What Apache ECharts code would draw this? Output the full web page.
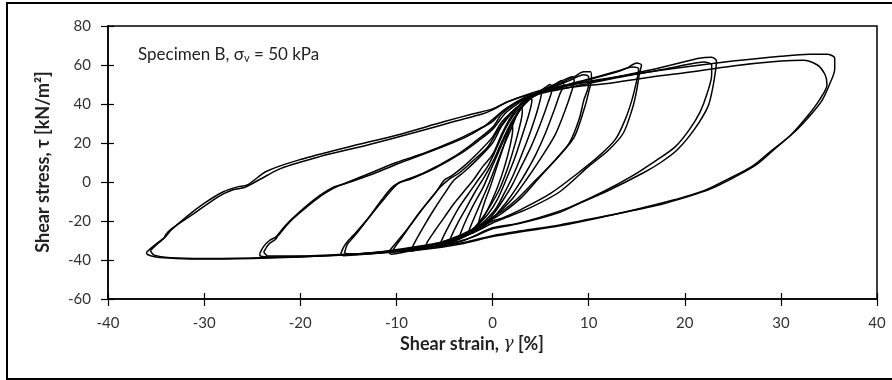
<!DOCTYPE html>
<html><head><meta charset="utf-8">
<script src="https://cdn.jsdelivr.net/npm/echarts@6/dist/echarts.min.js"></script>
<style>html,body{margin:0;padding:0;background:#fff}#c{width:892px;height:380px}</style>
</head><body><div id="c"></div>
<script>
// Axis ticks
const xTicks = { min: -40, max: 40, interval: 10 };
const yTicks = { min: -60, max: 80, interval: 20 };

// Hysteresis loops: [shear strain %, shear stress kN/m2]
const loop35a = [[-36.0,-36],[-35.3,-33],[-34.4,-29.5],[-34.0,-28],[-33.5,-25],[-32,-18.5],[-30,-11],[-28,-5],[-26.5,-2.5],[-25.5,-1.5],[-23.5,5.5],[-20,11.5],[-15,18],[-10,24],[-5,31],[-2,35],[0,37.5],[2,42],[5,47],[8,50],[11,52.5],[15,55.5],[20,59],[25,62],[30,64.5],[33,65.5],[34.8,65.5],[35.6,63.5],[35.6,58],[35.1,50.5],[34.3,42],[33.2,35],[31.5,26],[29.6,18],[27.5,9],[25,2],[22.7,-3.5],[20,-8],[17.5,-11.5],[12.2,-17],[7,-22],[3,-25],[0,-27.5],[-3,-31],[-7.5,-34],[-12,-36],[-16,-37.5],[-20,-38.5],[-25,-39.2],[-30,-39.5],[-33,-39.2],[-35,-38.5],[-35.9,-37.2],[-36.0,-36]];
const loop35b = [[-35.6,-35.2],[-34.8,-31.5],[-34.2,-29],[-34,-27],[-33.4,-24],[-31,-16],[-28.5,-7.5],[-27,-4],[-25.8,-2.8],[-24.5,0.5],[-22,7],[-18,13],[-13,19],[-8,25.5],[-4,31],[-1,35],[0,37],[1.5,41],[4,45],[8,48.5],[12,50.5],[16,53.5],[20,56],[25,59.5],[30,62],[32.3,62.5],[33.8,60],[34.6,55],[34.8,50],[34,42],[32.8,34],[31,24],[29,16],[27,8],[24.5,1.5],[22,-4.5],[19,-9],[15,-14],[11,-18.5],[7,-22.5],[3,-25.5],[0,-28],[-3,-31.5],[-7,-34.5],[-12,-36.5],[-18,-38],[-24,-38.8],[-30,-39.2],[-33.5,-38.8],[-35.2,-37.5],[-35.6,-35.2]];
const loop23a = [[-24.2,-36.5],[-23.8,-33],[-23.2,-30],[-22.5,-28],[-21.5,-22],[-20,-15],[-18,-7],[-16.5,-2.5],[-15.5,-1],[-13,4],[-10,10],[-7,15],[-4,21],[-1.5,27],[0,31],[1,36],[3,42.5],[5,46],[8,49.5],[12,53],[16,57],[19,60.5],[21.5,63.5],[22.8,64],[23.3,62],[23.2,57],[22.9,48],[22.4,38.5],[21,27],[19.2,16.4],[17.5,10],[15.8,5],[12,-4.5],[9,-11],[7,-15.5],[3,-21],[0,-23.5],[-3,-30],[-7,-34],[-12,-36.2],[-16,-37.5],[-20,-38.2],[-23,-38.5],[-24.2,-37.8],[-24.2,-36.5]];
const loop23b = [[-23.8,-36],[-23.3,-32],[-22.6,-29.5],[-22.3,-27.5],[-21,-20],[-19.5,-13.5],[-17.5,-6],[-16,-2],[-14.5,0.5],[-12,5],[-9,11],[-6,16.5],[-3,22.5],[-1,28],[0,32],[1.5,38],[3.5,43],[6,46.5],[10,50.5],[14,54.5],[18,58],[20.5,60.5],[22,61.5],[22.8,60],[22.8,55],[22.3,45],[21.6,36],[20.5,27],[19,18],[17,11],[14.5,3],[11.5,-5],[8,-13],[5,-18],[2,-22],[0,-24],[-2.5,-29],[-6,-33.5],[-11,-36],[-16,-37.2],[-21,-38],[-23.3,-38],[-23.8,-36]];
const loop15a = [[-15.8,-37],[-15.5,-33.5],[-15,-30],[-14.5,-27.5],[-13,-19],[-11.5,-9],[-10.5,-3],[-9.8,-0.5],[-9.3,0.5],[-7,5],[-4,13],[-2,20],[0,28],[1,35],[3,42],[6,47.5],[9,51.5],[12,55.5],[14,58.5],[15,61],[15.5,60],[15.3,56],[15,47],[14.6,38.5],[13.6,25],[12,16],[10,8],[7,-5],[4,-13],[1,-19],[0,-21],[-2,-26],[-5,-31],[-9,-34.5],[-12,-36.5],[-14.5,-37.5],[-15.5,-37.8],[-15.8,-37]];
const loop15b = [[-15.4,-36.5],[-15.1,-32],[-14.6,-29],[-14,-25.5],[-12.5,-16],[-11,-7],[-10,-1.5],[-9.5,0],[-8.5,1.5],[-6,7],[-3.5,14],[-1.5,21],[0,27],[1.5,36],[4,44],[7,48.5],[10,52.5],[13,56.5],[14.5,59],[15.2,58],[15,52],[14.5,42],[13.8,32],[12.8,22],[11,13],[9,5],[6,-6],[3,-14],[1,-18.5],[0,-20],[-2,-25],[-5,-30.5],[-9,-34],[-12,-36],[-14.5,-37],[-15.4,-36.5]];
const loop10a = [[-10.8,-36],[-10.5,-34],[-10,-31],[-9,-25],[-7.5,-15],[-6,-6],[-5,1],[-4.3,3],[-3,8],[-1.5,15],[0,23],[1,31],[3,40],[5,46],[7,50.5],[8.5,54],[9.5,56.5],[10.2,56.5],[10.3,53],[10,46],[9.6,38.5],[8.5,23],[7,14],[5,3],[3,-8],[1,-16],[0,-19],[-2,-25],[-4.5,-30],[-7,-33.5],[-9.5,-36.3],[-10.5,-37],[-10.8,-36]];
const loop10b = [[-10.4,-35.5],[-10.1,-33],[-9.5,-29],[-8.5,-22],[-7,-12],[-5.5,-3],[-4.5,1.5],[-3.5,4.5],[-2,11],[-0.5,18],[0.5,26],[2,36],[4,43],[6,48],[8,52],[9.5,55],[10,54],[10,50],[9.5,42],[9,32],[8,20],[6.5,11],[4.5,1],[2.5,-9],[1,-15],[0,-18],[-2,-24],[-4.5,-29.5],[-7,-33],[-9.5,-35.5],[-10.4,-35.5]];
const loop8 = [[-8.5,-35.5],[-8.2,-32],[-7.3,-24],[-6.2,-15],[-5,-6],[-4,1],[-3,5],[-1.5,12],[0,20],[1,29],[2.5,38],[4,44],[6,49],[7.5,52.5],[8.3,54],[8.5,52],[8.2,46],[7.5,36],[6.5,24],[5,12],[3.5,1],[2,-9],[0.8,-15],[0,-18.5],[-1.5,-23.5],[-3.5,-29],[-6,-33],[-8.5,-35.5]];
const loop6 = [[-7,-34],[-6.8,-31],[-6,-25],[-5,-18],[-4,-11],[-3,-5],[-2,1],[-1,8],[0,14],[1,25],[2,34],[3,40],[4.5,44.5],[5.5,47],[6.5,50],[7.2,52],[7.4,50],[7,45],[6.5,38],[5.5,25],[4.5,14],[3.5,5],[2.5,-3],[1.5,-10],[0.5,-16],[0,-19],[-1,-23],[-2.5,-27],[-4,-30],[-5.5,-32.5],[-7,-34]];
const loop5 = [[-5.5,-33],[-5.3,-30],[-4.6,-23],[-3.6,-14],[-2.5,-6],[-1.5,1],[-0.5,8],[0.3,16],[1.3,27],[2.3,35],[3.5,41],[4.5,45],[5.5,48.5],[6,50],[6.2,48],[5.8,41],[5,30],[4,18],[3,8],[2,-2],[1,-10],[0,-17],[-1,-22],[-2.5,-27],[-4,-30.5],[-5.5,-33]];
const loop4 = [[-4.5,-31],[-4.3,-28],[-3.6,-21],[-2.7,-13],[-1.8,-5],[-0.8,3],[0.2,12],[1,21],[2,31],[3,38],[4,43],[4.8,46.5],[5.1,46],[4.8,39],[4.1,28],[3.2,16],[2.2,4],[1.2,-6],[0.3,-14],[-0.8,-20],[-2,-25],[-3.3,-28.5],[-4.5,-31]];
const loop3 = [[-3.5,-29],[-3.3,-26],[-2.7,-19],[-1.9,-11],[-1,-3],[-0.2,6],[0.6,15],[1.5,25],[2.5,34],[3.3,40],[3.9,43.5],[4.1,42],[3.8,35],[3.1,24],[2.3,12],[1.4,1],[0.5,-9],[-0.4,-16],[-1.5,-22],[-2.5,-26],[-3.5,-29]];
const loop2 = [[-2.5,-26],[-2.3,-23],[-1.7,-16],[-1,-8],[-0.3,0],[0.4,9],[1.2,19],[2,28],[2.6,35],[3,38.5],[3.1,36],[2.8,28],[2.2,17],[1.5,6],[0.7,-4],[-0.2,-12],[-1,-18],[-1.8,-23],[-2.5,-26]];
const loop1 = [[-1.5,-22],[-1.3,-18],[-0.8,-10],[-0.2,-2],[0.4,7],[1,16],[1.6,25],[2,30],[2.1,27],[1.8,18],[1.2,7],[0.5,-3],[-0.2,-11],[-0.8,-17],[-1.5,-22]];

const loops = [loop1, loop2, loop3, loop4, loop5, loop6, loop8, loop10a, loop10b, loop15a, loop15b, loop23a, loop23b, loop35a, loop35b];

const chart = echarts.init(document.getElementById('c'), null, { renderer: 'canvas' });
const FONT = 'Lato';
const baseAxis = (t) => ({ type: 'value', min: t.min, max: t.max, interval: t.interval, splitLine: { show: false } });

chart.setOption({
  animation: false,
  backgroundColor: '#fff',
  grid: { left: 108, right: 15, top: 26, bottom: 81, show: true, borderColor: '#000', borderWidth: 1.5, backgroundColor: 'transparent' },
  xAxis: [
    Object.assign(baseAxis(xTicks), {
      position: 'bottom',
      axisLine: { onZero: false, lineStyle: { color: '#000', width: 1.5 } },
      axisTick: { inside: false, length: 7, lineStyle: { color: '#000', width: 1.2 } },
      axisLabel: { color: '#333', fontFamily: FONT, fontSize: 15, margin: 17 }
    }),
    Object.assign(baseAxis(xTicks), {
      position: 'bottom',
      axisLine: { show: false, onZero: false },
      axisTick: { inside: true, length: 6, lineStyle: { color: '#000', width: 1.2 } },
      axisLabel: { show: false }
    })
  ],
  yAxis: [
    Object.assign(baseAxis(yTicks), {
      position: 'left',
      axisLine: { onZero: false, lineStyle: { color: '#000', width: 1.5 } },
      axisTick: { inside: false, length: 7, lineStyle: { color: '#000', width: 1.2 } },
      axisLabel: { color: '#333', fontFamily: FONT, fontSize: 15, margin: 17 }
    }),
    Object.assign(baseAxis(yTicks), {
      position: 'left',
      axisLine: { show: false, onZero: false },
      axisTick: { inside: true, length: 6, lineStyle: { color: '#000', width: 1.2 } },
      axisLabel: { show: false }
    })
  ],
  title: {
    left: 133, top: 40,
    text: '{a|Specimen B, σ}{s|v}{a| = 50 kPa}',
    textStyle: { fontWeight: 'normal', rich: {
      a: { fontFamily: FONT, fontSize: 17, fontWeight: 'normal', color: '#222' },
      s: { fontFamily: FONT, fontSize: 11, fontWeight: 'normal', color: '#222', verticalAlign: 'bottom', padding: [8, 0, 0, 0] }
    } }
  },
  graphic: [
    { type: 'rect', shape: { x: 7, y: 3, width: 900, height: 376 }, style: { fill: 'none', stroke: '#000', lineWidth: 2 }, silent: true, z: 100 },
    { type: 'text', x: 472, y: 344, style: { text: '{b|Shear strain, }{i|γ}{b| [%]}', align: 'center', verticalAlign: 'middle',
        rich: { b: { fontFamily: FONT, fontWeight: 'bold', fontSize: 18, fill: '#222' }, i: { fontFamily: 'DejaVu Serif', fontStyle: 'italic', fontSize: 17, fill: '#222' } } } },
    { type: 'text', x: 43, y: 162, rotation: Math.PI / 2, style: { text: 'Shear stress, τ [kN/m²]', align: 'center', verticalAlign: 'middle',
        fontFamily: FONT, fontWeight: 'bold', fontSize: 18, fill: '#222' } }
  ],
  series: loops.map((d) => ({
    type: 'line', xAxisIndex: 0, yAxisIndex: 0, data: d, showSymbol: false, smooth: 0.3,
    lineStyle: { color: '#000', width: 1.5 }, silent: true
  }))
});
</script></body></html>
